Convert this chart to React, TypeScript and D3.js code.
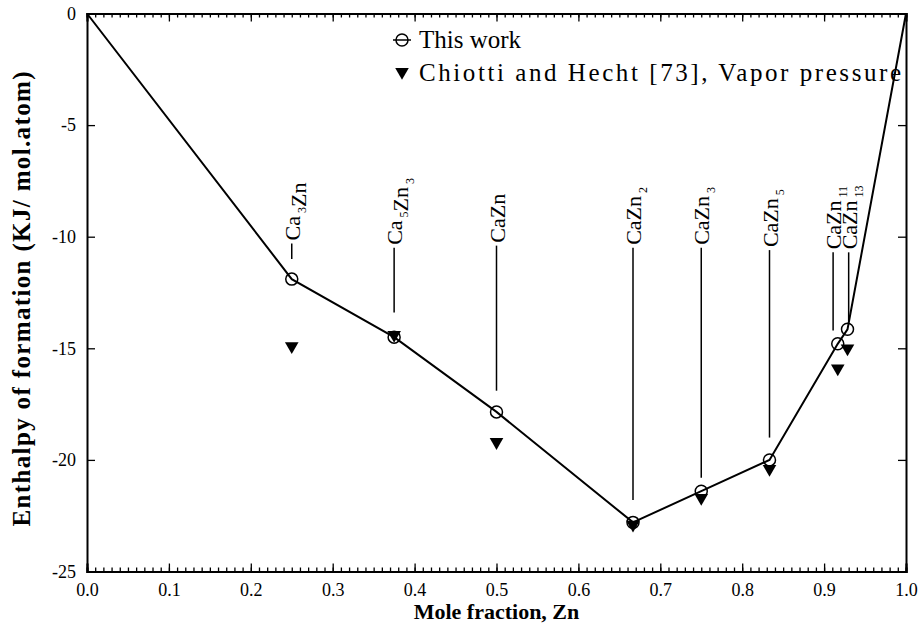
import React, { useEffect, useRef } from "react";
import * as d3 from "d3";

// compounds in the Ca-Zn system, x = mole fraction Zn
const phaseLabels = ["Ca{3}Zn", "Ca{5}Zn{3}", "CaZn", "CaZn{2}", "CaZn{3}", "CaZn{5}", "CaZn{11}", "CaZn{13}"];
// leader lines: x (mole fraction) and top / bottom ends (enthalpy units)
const leaderX = [0.25, 0.375, 0.5, 2 / 3, 0.75, 5 / 6, 0.911, 0.93];
const leaderTop = [-10.3, -10.5, -10.4, -10.5, -10.5, -10.6, -10.7, -10.7];
const leaderBottom = [-11.0, -13.4, -16.9, -21.8, -20.8, -19.0, -14.2, -13.8];

// this work (with pure elements at both ends)
const workX = [0, 0.25, 0.375, 0.5, 2 / 3, 0.75, 5 / 6, 11 / 12, 13 / 14, 1];
const workH = [0, -11.9, -14.5, -17.85, -22.8, -21.4, -20.0, -14.8, -14.15, 0];

// Chiotti and Hecht, vapor pressure
const chiottiX = [0.25, 0.375, 0.5, 2 / 3, 0.75, 5 / 6, 11 / 12, 13 / 14];
const chiottiH = [-14.9, -14.4, -19.2, -22.9, -21.7, -20.4, -15.9, -15.0];

const xTicks = [0, 0.1, 0.2, 0.3, 0.4, 0.5, 0.6, 0.7, 0.8, 0.9, 1.0];
const yTicks = [0, -5, -10, -15, -20, -25];

const App = () => {
  const ref = useRef<SVGSVGElement>(null);

  useEffect(() => {
    const width = 919;
    const height = 630;
    const margin = { top: 13.5, left: 87, bottom: 58.5, right: 13 };
    const font = "'Liberation Serif', 'Times New Roman', serif";

    const svg = d3.select(ref.current);
    svg.selectAll("*").remove();

    const x = d3.scaleLinear().domain([0, 1]).range([margin.left, width - margin.right]);
    const y = d3.scaleLinear().domain([-25, 0]).range([height - margin.bottom, margin.top]);

    const minor = d3.range(0, 101).map((d) => d / 100);

    // axes
    const styleAxis = (g: any, labels: boolean) => {
      g.select(".domain").attr("stroke-width", 2);
      g.selectAll(".tick line").attr("stroke-width", 1.3);
      g.selectAll("text").attr("font-family", font).attr("font-size", 18).attr("fill", "#000");
      if (!labels) g.selectAll("text").remove();
    };

    svg.append("g")
      .attr("transform", `translate(0, ${y(-25)})`)
      .call(d3.axisBottom(x).tickValues(minor).tickSize(-4).tickFormat(() => ""))
      .call((g: any) => styleAxis(g, false));
    svg.append("g")
      .attr("transform", `translate(0, ${y(-25)})`)
      .call(d3.axisBottom(x).tickValues(xTicks).tickSize(-8).tickPadding(12).tickFormat(d3.format(".1f")))
      .call((g: any) => styleAxis(g, true));
    svg.append("g")
      .attr("transform", `translate(0, ${y(0)})`)
      .call(d3.axisTop(x).tickValues(minor).tickSize(-4).tickFormat(() => ""))
      .call((g: any) => styleAxis(g, false));
    svg.append("g")
      .attr("transform", `translate(0, ${y(0)})`)
      .call(d3.axisTop(x).tickValues(xTicks).tickSize(-8).tickFormat(() => ""))
      .call((g: any) => styleAxis(g, false));
    svg.append("g")
      .attr("transform", `translate(${x(0)}, 0)`)
      .call(d3.axisLeft(y).tickValues(yTicks).tickSize(-8).tickPadding(11).tickFormat((d: any) => String(d)))
      .call((g: any) => styleAxis(g, true));
    svg.append("g")
      .attr("transform", `translate(${x(1)}, 0)`)
      .call(d3.axisRight(y).tickValues(yTicks).tickSize(-8).tickFormat(() => ""))
      .call((g: any) => styleAxis(g, false));

    // axis titles
    svg.append("text")
      .attr("x", (x(0) + x(1)) / 2)
      .attr("y", 619)
      .attr("text-anchor", "middle")
      .attr("font-family", font)
      .attr("font-weight", "bold")
      .attr("font-size", 22)
      .text("Mole fraction, Zn");
    svg.append("text")
      .attr("transform", `translate(30, 299) rotate(-90)`)
      .attr("text-anchor", "middle")
      .attr("font-family", font)
      .attr("font-weight", "bold")
      .attr("font-size", 25)
      .attr("textLength", 455)
      .attr("lengthAdjust", "spacing")
      .text("Enthalpy of formation (KJ/ mol.atom)");

    // leader lines + compound labels
    leaderX.forEach((px, i) => {
      svg.append("line")
        .attr("x1", x(px)).attr("x2", x(px))
        .attr("y1", y(leaderTop[i])).attr("y2", y(leaderBottom[i]))
        .attr("stroke", "#000").attr("stroke-width", 1.5);
      const t = svg.append("text")
        .attr("transform", `translate(${x(px) + 8}, ${y(leaderTop[i]) - 3}) rotate(-90)`)
        .attr("font-family", font)
        .attr("font-size", 22);
      phaseLabels[i].split(/(\{\d+\})/).filter((s) => s).forEach((part) => {
        if (part.startsWith("{")) {
          t.append("tspan").attr("dx", 3).attr("dy", 6).attr("font-size", 12).text(part.slice(1, -1));
          t.append("tspan").attr("dy", -6).text("");
        } else {
          t.append("tspan").text(part);
        }
      });
    });

    // this work line
    const line = d3.line<number>().x((d) => x(d)).y((d, i) => y(workH[i]));
    svg.append("path")
      .datum(workX)
      .attr("fill", "none")
      .attr("stroke", "#000")
      .attr("stroke-width", 2)
      .attr("d", line);

    const tri = d3.symbol().type(d3.symbolTriangle).size(80);

    // Chiotti triangles
    svg.append("g").selectAll("path")
      .data(chiottiX)
      .enter()
      .append("path")
      .attr("d", tri)
      .attr("transform", (d, i) => `translate(${x(d)}, ${y(chiottiH[i])}) rotate(180)`)
      .attr("fill", "#000");

    // this work circles (skip pure elements)
    svg.append("g").selectAll("circle")
      .data(workX.slice(1, -1))
      .enter()
      .append("circle")
      .attr("cx", (d) => x(d))
      .attr("cy", (d, i) => y(workH[i + 1]))
      .attr("r", 6)
      .attr("fill", "none")
      .attr("stroke", "#000")
      .attr("stroke-width", 1.5);

    // legend
    const lg = svg.append("g").attr("transform", "translate(402, 0)");
    lg.append("line").attr("x1", -9).attr("x2", 9).attr("y1", 40).attr("y2", 40).attr("stroke", "#000").attr("stroke-width", 1.5);
    lg.append("circle").attr("cx", 0).attr("cy", 40).attr("r", 6).attr("fill", "none").attr("stroke", "#000").attr("stroke-width", 1.5);
    lg.append("path").attr("d", tri).attr("transform", "translate(0, 72) rotate(180)").attr("fill", "#000");
    lg.append("text").attr("x", 17).attr("y", 48).attr("font-family", font).attr("font-size", 25).text("This work");
    lg.append("text").attr("x", 17).attr("y", 81).attr("font-family", font).attr("font-size", 25)
      .attr("textLength", 482).attr("lengthAdjust", "spacing")
      .text("Chiotti and Hecht [73], Vapor pressure");
  }, []);

  return (
    <svg
      ref={ref}
      width={919}
      height={630}
      style={{ position: "absolute", left: 0, top: 0, background: "#fff" }}
    />
  );
};

export default App;
